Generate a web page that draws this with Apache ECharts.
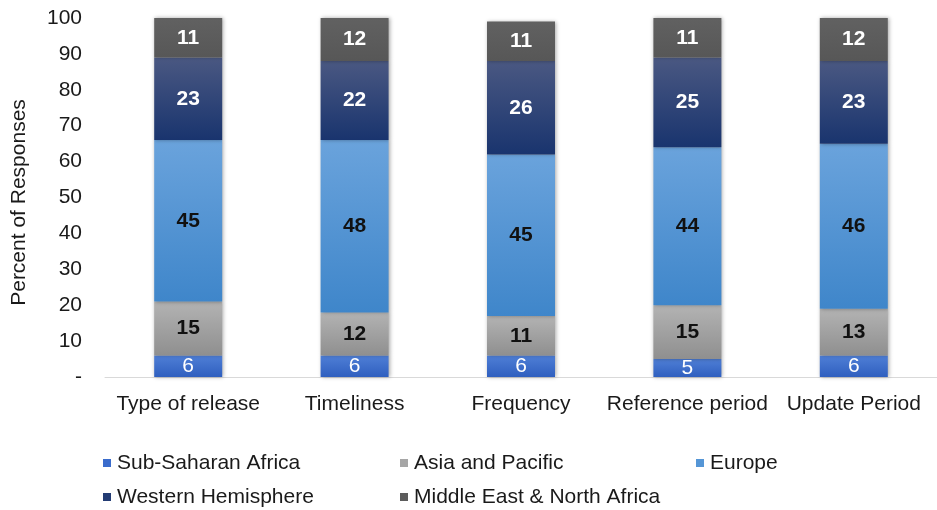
<!DOCTYPE html>
<html>
<head>
<meta charset="utf-8">
<script src="https://cdn.jsdelivr.net/npm/echarts@6/dist/echarts.min.js"></script>
<style>
  html, body { margin: 0; padding: 0; background: #fff; }
  #chart { width: 937px; height: 510px; }
</style>
</head>
<body>
<div id="chart"></div>
<script>
const categories = ['Type of release', 'Timeliness', 'Frequency', 'Reference period', 'Update Period'];
const subSaharan = [6, 6, 6, 5, 6];
const asiaPacific = [15, 12, 11, 15, 13];
const europe = [45, 48, 45, 44, 46];
const westernHem = [23, 22, 26, 25, 23];
const middleEast = [11, 12, 11, 11, 12];
const yTicks = [0, 10, 20, 30, 40, 50, 60, 70, 80, 90, 100];

const FONT = '"Liberation Sans", Arial, sans-serif';

function grad(top, bottom) {
  return new echarts.graphic.LinearGradient(0, 0, 0, 1, [
    {offset: 0, color: top},
    {offset: 1, color: bottom}
  ]);
}

// series look: name, data, fill, label colour, bold?
const seriesDefs = [
  {name: 'Sub-Saharan Africa', data: subSaharan, fill: grad('#4f7fd6', '#2f5fbf'), icon: '#3a6ccc', label: '#ffffff', weight: 'normal'},
  {name: 'Asia and Pacific', data: asiaPacific, fill: grad('#b3b3b3', '#8f8f8f'), icon: '#a6a6a6', label: '#111111', weight: 'bold'},
  {name: 'Europe', data: europe, fill: grad('#6aa3dc', '#3f86ca'), icon: '#5596d6', label: '#111111', weight: 'bold'},
  {name: 'Western Hemisphere', data: westernHem, fill: grad('#4a5882', '#19346e'), icon: '#233c74', label: '#ffffff', weight: 'bold'},
  {name: 'Middle East & North Africa', data: middleEast, fill: grad('#616161', '#575757'), icon: '#5c5c5c', label: '#ffffff', weight: 'bold'}
];

const legendPos = [
  {left: 103, top: 451},
  {left: 400, top: 451},
  {left: 696, top: 451},
  {left: 103, top: 485},
  {left: 400, top: 485}
];

const chart = echarts.init(document.getElementById('chart'));

chart.setOption({
  animation: false,
  textStyle: {fontFamily: FONT},
  grid: {left: 105, top: 18, width: 840, height: 359, containLabel: false},
  legend: seriesDefs.map((s, i) => ({
    data: [{name: s.name, itemStyle: {color: s.icon}}],
    left: legendPos[i].left,
    top: legendPos[i].top,
    icon: 'rect',
    itemWidth: 8,
    itemHeight: 8,
    itemGap: 4,
    padding: 0,
    textStyle: {fontFamily: FONT, fontSize: 21, lineHeight: 24, color: '#1a1a1a', padding: [0, 0, 0, 1]}
  })),
  xAxis: {
    type: 'category',
    data: categories,
    axisLine: {lineStyle: {color: '#d9d9d9', width: 1}},
    axisTick: {show: false},
    axisLabel: {fontFamily: FONT, fontSize: 21, color: '#1a1a1a', margin: 17, interval: 0}
  },
  yAxis: {
    type: 'value',
    min: yTicks[0],
    max: yTicks[yTicks.length - 1],
    interval: 10,
    name: 'Percent of Responses',
    nameLocation: 'middle',
    nameGap: 75,
    nameTextStyle: {fontFamily: FONT, fontSize: 21, color: '#1a1a1a', padding: [0, 10, 0, 0]},
    axisLine: {show: false},
    axisTick: {show: false},
    splitLine: {show: false},
    axisLabel: {
      fontFamily: FONT, fontSize: 21, color: '#1a1a1a', margin: 23,
      formatter: v => (v === 0 ? '-' : String(v))
    }
  },
  series: seriesDefs.map(s => ({
    name: s.name,
    type: 'bar',
    stack: 'total',
    data: s.data,
    barWidth: 68,
    itemStyle: {
      color: s.fill,
      shadowColor: 'rgba(0,0,0,0.35)',
      shadowBlur: 4,
      shadowOffsetX: 1,
      shadowOffsetY: 0
    },
    label: {
      show: true,
      position: 'inside',
      fontFamily: FONT,
      fontSize: 21,
      fontWeight: s.weight,
      color: s.label
    }
  }))
});
</script>
</body>
</html>
